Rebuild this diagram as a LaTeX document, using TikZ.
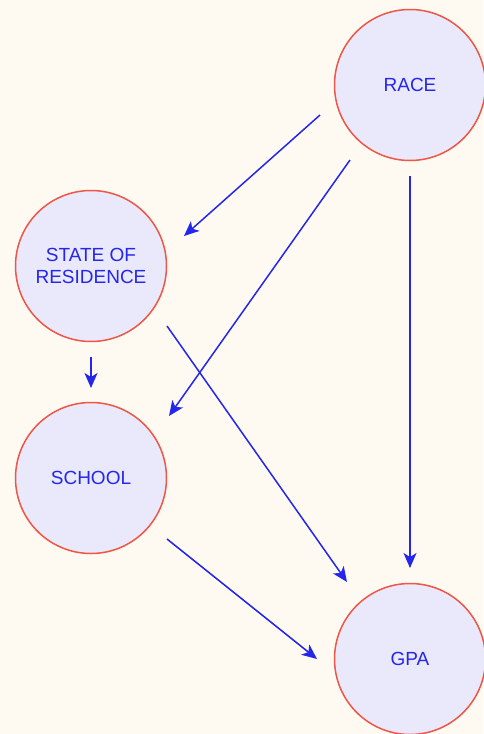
\documentclass[tikz,border=0pt]{standalone}
\usepackage{fontspec}
\setmainfont{Liberation Sans}
\usetikzlibrary{arrows.meta,calc}
\definecolor{dagback}{RGB}{254,250,242}
\definecolor{dagfill}{RGB}{234,233,252}
\definecolor{dagring}{RGB}{238,86,70}
\definecolor{dagblue}{RGB}{36,38,236}

\begin{document}
\begin{tikzpicture}[x=1pt,y=-1pt,
    var/.style={circle,draw=dagring,fill=dagfill,line width=1.5pt,minimum size=151pt,inner sep=0pt,
      text=dagblue,align=center,font=\fontsize{19}{22}\selectfont},
    arr/.style={-{Stealth[length=15pt,width=13pt,inset=4pt]},dagblue,line width=1.5pt}]
  \fill[dagback] (0,0) rectangle (483,734);
  \useasboundingbox (0,0) rectangle (483,734);
  \node[var] (race) at (410,85) {RACE};
  \node[var] (state) at (91,266) {STATE OF\\RESIDENCE};
  \node[var] (school) at (91,478) {SCHOOL};
  \node[var] (gpa) at (410,659) {GPA};
  \draw[arr] ($(race)+(-90,30)$) -- ($(state)+(93,-30)$);
  \draw[arr] ($(race)+(-60,75)$) -- ($(school)+(78,-62)$);
  \draw[arr] ($(race)+(0,91)$) -- ($(gpa)+(0,-91)$);
  \draw[arr] ($(state)+(0,91)$) -- ($(school)+(0,-90)$);
  \draw[arr] ($(state)+(76,60)$) -- ($(gpa)+(-63,-77)$);
  \draw[arr] ($(school)+(76,61)$) -- ($(gpa)+(-93,0)$);
\end{tikzpicture}
\end{document}
